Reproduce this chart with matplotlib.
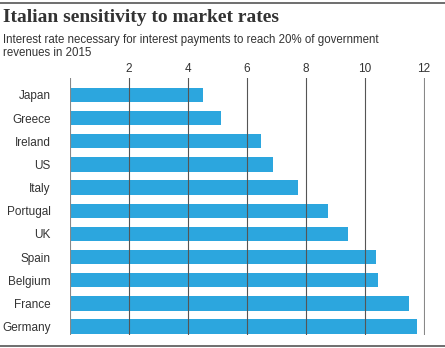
import matplotlib
matplotlib.use("Agg")
import matplotlib.pyplot as plt
from matplotlib.lines import Line2D

countries = ["Japan", "Greece", "Ireland", "US", "Italy", "Portugal",
             "UK", "Spain", "Belgium", "France", "Germany"]
rates = [4.5, 5.12, 6.5, 6.88, 7.74, 8.76, 9.44, 10.38, 10.44, 11.5, 11.77]
xticks = [0, 2, 4, 6, 8, 10, 12]
xticklabels = ["", "2", "4", "6", "8", "10", "12"]

W, H = 445, 348
fig = plt.figure(figsize=(W / 100, H / 100), dpi=100)
fig.patch.set_facecolor("white")

# plot area in pixel terms
x0, x1, ytop, ybot = 70, 425, 78, 335
ax = fig.add_axes([x0 / W, 1 - ybot / H, (x1 - x0) / W, (ybot - ytop) / H])

ypos = list(range(len(countries)))
ax.barh(ypos, rates, height=0.62, color="#2ca6de", zorder=1)

ax.set_xlim(0, 12.05)
ax.set_ylim(10.36, -0.73)
ax.set_yticks(ypos)
ax.set_yticklabels(countries, fontfamily="Liberation Sans", fontsize=8.5, color="#333333")
ax.set_xticks(xticks)
ax.set_xticklabels(xticklabels, fontfamily="Liberation Sans", fontsize=8.5, color="#333333")
ax.xaxis.tick_top()
ax.tick_params(axis="x", length=0, pad=2)
ax.tick_params(axis="y", length=0, pad=14)
for s in ax.spines.values():
    s.set_visible(False)

ax.set_axisbelow(False)
ax.grid(axis="x", color="#555555", linewidth=0.8, zorder=3)
ax.grid(axis="y", visible=False)
# outer gridlines are a lighter grey
glines = ax.get_xgridlines()
glines[0].set_color("#888888")
glines[-1].set_color("#888888")

# title block
fig.text(3 / W, 1 - 18 / H, "Italian sensitivity to market rates",
         fontfamily="Liberation Serif", fontweight="bold", fontsize=14,
         color="#333333", va="center", ha="left")
fig.text(3 / W, 1 - 40 / H,
         "Interest rate necessary for interest payments to reach 20% of government",
         fontfamily="Liberation Sans", fontsize=8.3, color="#333333", va="center")
fig.text(3 / W, 1 - 53 / H, "revenues in 2015",
         fontfamily="Liberation Sans", fontsize=8.3, color="#333333", va="center")

# rules at top and bottom
fig.add_artist(Line2D([0, 1], [1 - 3 / H, 1 - 3 / H], transform=fig.transFigure,
                      color="#555555", linewidth=1.2))
fig.add_artist(Line2D([0, 1], [1 - 346 / H, 1 - 346 / H], transform=fig.transFigure,
                      color="#555555", linewidth=1.2))

fig.savefig("out.png", dpi=100)
